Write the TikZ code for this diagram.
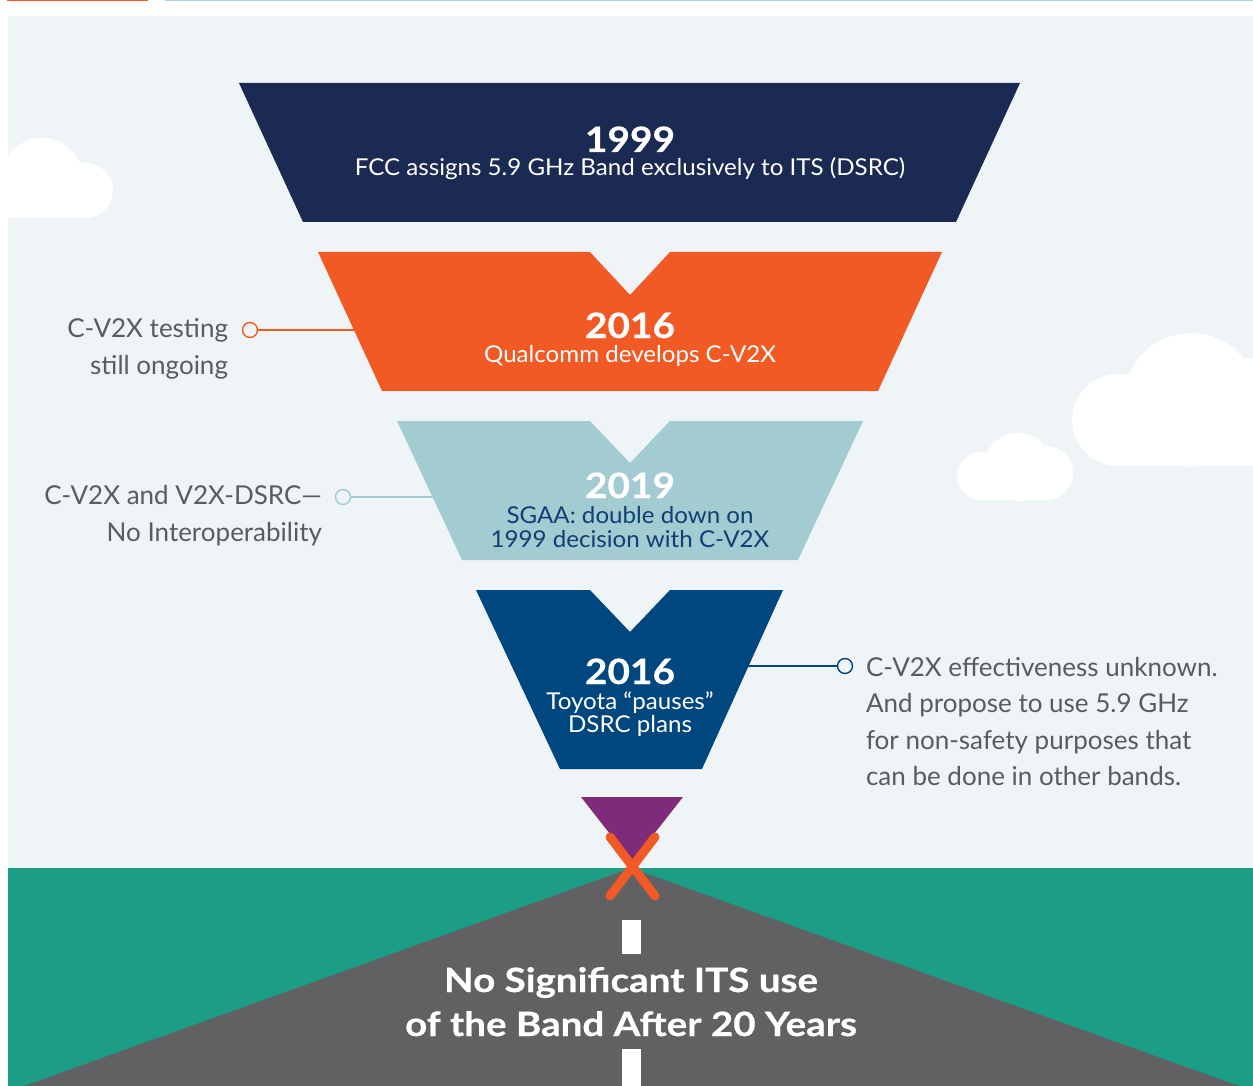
\documentclass[tikz,border=0pt]{standalone}
\usepackage{fontspec}
\setmainfont{Lato}
\newfontfamily\yearfont[FakeStretch=1.11, FakeBold=0.4]{Lato}
\newfontfamily\bigfont[FakeStretch=1.15, FakeBold=0.6]{Lato}
\newfontfamily\subfont[FakeStretch=1.04]{Lato}
\definecolor{bgc}{HTML}{EFF4F7}
\definecolor{navyc}{HTML}{1B2A52}
\definecolor{orangec}{HTML}{F15A24}
\definecolor{lbluec}{HTML}{A3CBD2}
\definecolor{bluec}{HTML}{00467F}
\definecolor{purplec}{HTML}{7F2A7A}
\definecolor{greenc}{HTML}{1B9E85}
\definecolor{roadc}{HTML}{616163}
\definecolor{graytext}{HTML}{5B5B5E}
\definecolor{darkbluetext}{HTML}{0F3F73}
\definecolor{toplinec}{HTML}{A8D5DF}
\tikzset{
  yeartext/.style={anchor=base, text=white, font=\yearfont\fontsize{35}{40}\selectfont\bfseries},
  subtext/.style={anchor=base, text=white, font=\subfont\fontsize{23.2}{26}\selectfont},
  calltext/.style={text=graytext, font=\fontsize{26}{30}\selectfont},
  bigtext/.style={anchor=base, text=white, font=\bigfont\fontsize{33.5}{38}\selectfont\bfseries},
  dotmark/.style={circle, fill=bgc, line width=1.4pt, minimum size=15pt, inner sep=0pt},
  leader/.style={line width=1.2pt},
  cloudfill/.style={fill=white}
}
\begin{document}
\begin{tikzpicture}[x=1pt,y=-1pt, every node/.style={inner sep=0pt, outer sep=0pt}]
\useasboundingbox (0,0) rectangle (1253,1086);
\fill[white] (0,0) rectangle (1253,1086);
% top strips
\fill[orangec] (7,0) rectangle (148,1.5);
\fill[toplinec] (165,0) rectangle (1253,1.5);
% sky
\fill[bgc] (8,16) rectangle (1253,868);
% left cloud
\begin{scope}
\clip (8,16) rectangle (1253,218);
\fill[cloudfill] (42,179.4) circle (41.4pt);
\fill[cloudfill] (85.5,190.5) circle (27.5pt);
\fill[cloudfill] (0,179.4) rectangle (85.5,218);
\end{scope}
% right big cloud
\begin{scope}
\clip (8,16) rectangle (1253,466);
\fill[cloudfill] (1118,420) circle (46pt);
\fill[cloudfill] (1191,399.8) circle (66.8pt);
\fill[cloudfill] (1253,412) circle (54pt);
\fill[cloudfill] (1118,420) rectangle (1260,466);
\end{scope}
% small cloud
\begin{scope}
\clip (8,16) rectangle (1253,500);
\fill[cloudfill] (981,476) circle (24pt);
\fill[cloudfill] (1018,467) circle (34pt);
\fill[cloudfill] (1046,473) circle (27pt);
\fill[cloudfill] (981,470) rectangle (1046,500);
\end{scope}
% ground and road
\fill[greenc] (8,868) rectangle (1253,1086);
\fill[roadc] (631,868) -- (1239,1086) -- (24,1086) -- cycle;
\fill[white] (622,920) rectangle (641,954);
\fill[white] (622,1049) rectangle (641,1086);
% funnel
\fill[navyc] (239,83) -- (1020,83) -- (956,222) -- (303,222) -- cycle;
\fill[orangec] (318,252) -- (590,252) -- (630,295) -- (670,252) -- (942,252) -- (878,391) -- (382,391) -- cycle;
\fill[lbluec] (397,421) -- (590,421) -- (630,463) -- (670,421) -- (863,421) -- (798,560) -- (462,560) -- cycle;
\fill[bluec] (476,590) -- (590,590) -- (630,632) -- (670,590) -- (783,590) -- (702,769) -- (560,769) -- cycle;
\fill[purplec] (581,797) -- (683,797) -- (632,862) -- cycle;
\draw[orangec, line width=9pt, line cap=round] (610,837) -- (655,896) (655,837) -- (610,896);
% funnel texts
\node[yeartext] (y1) at (630,152) {1999};
\node[subtext] (s1) at (630,176) {FCC assigns 5.9 GHz Band exclusively to ITS (DSRC)};
\node[yeartext] (y2) at (630,338) {2016};
\node[subtext] (s2) at (630,362) {Qualcomm develops C-V2X};
\node[yeartext] (y3) at (630,498) {2019};
\node[subtext, text=darkbluetext] (s3a) at (630,523) {SGAA: double down on};
\node[subtext, text=darkbluetext] (s3b) at (630,547) {1999 decision with C-V2X};
\node[yeartext] (y4) at (630,684) {2016};
\node[subtext] (s4a) at (630,709) {Toyota “pauses”};
\node[subtext] (s4b) at (630,732) {DSRC plans};
% bottom text
\node[bigtext] (b1) at (631,992) {No Significant ITS use};
\node[bigtext] (b2) at (631,1036) {of the Band After 20 Years};
% callouts
\node[calltext, anchor=base east] (l1a) at (228,337) {C-V2X testing};
\node[calltext, anchor=base east] (l1b) at (228,374) {still ongoing};
\node[dotmark, draw=orangec] (c1) at (250,330) {};
\coordinate (e1) at (354,330);
\draw[leader, orangec] (c1) -- (e1);
\node[calltext, anchor=base east] (l2a) at (322,504) {C-V2X and V2X-DSRC—};
\node[calltext, anchor=base east] (l2b) at (322,541) {No Interoperability};
\node[dotmark, draw=lbluec] (c2) at (343,497) {};
\coordinate (e2) at (433,497);
\draw[leader, lbluec] (c2) -- (e2);
\node[dotmark, draw=bluec] (c3) at (845,666) {};
\coordinate (e3) at (748,666);
\draw[leader, bluec] (c3) -- (e3);
\node[calltext, anchor=base west] (r1) at (866,676) {C-V2X effectiveness unknown.};
\node[calltext, anchor=base west] (r2) at (866,712.7) {And propose to use 5.9 GHz};
\node[calltext, anchor=base west] (r3) at (866,749) {for non-safety purposes that};
\node[calltext, anchor=base west] (r4) at (866,785.7) {can be done in other bands.};
\end{tikzpicture}
\end{document}
